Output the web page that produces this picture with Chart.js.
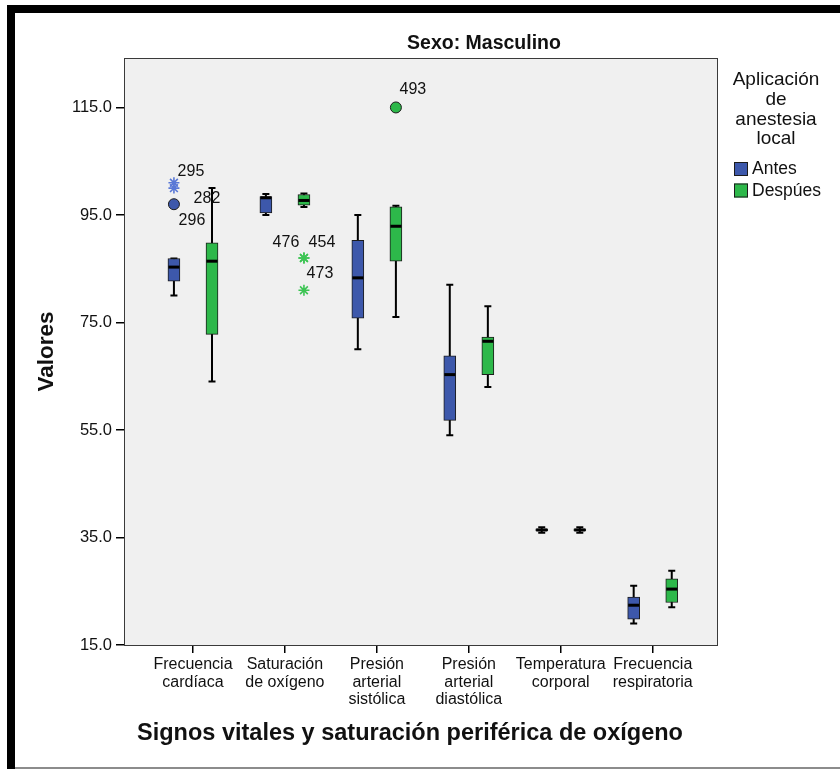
<!DOCTYPE html>
<html>
<head>
<meta charset="utf-8">
<script src="https://cdn.jsdelivr.net/npm/chart.js@4"></script>
<style>
  html, body { margin: 0; padding: 0; background: #fff; }
  #wrap { width: 840px; height: 769px; }
</style>
</head>
<body>
<div id="wrap"><canvas id="chart" width="840" height="769"></canvas></div>
<script>
const categories = [
  ["Frecuencia", "cardíaca"],
  ["Saturación", "de oxígeno"],
  ["Presión", "arterial", "sistólica"],
  ["Presión", "arterial", "diastólica"],
  ["Temperatura", "corporal"],
  ["Frecuencia", "respiratoria"]
];
const seriesNames = ["Antes", "Despúes"];
const legendTitle = ["Aplicación", "de", "anestesia", "local"];
const yTicks = [15, 35, 55, 75, 95, 115];

// Antes
const antesMin    = [80.0, 95.0, 70.0, 54.0, 35.9, 19.0];
const antesQ1     = [82.7, 95.4, 75.8, 56.8, 36.2, 19.8];
const antesMedian = [85.3, 98.2, 83.3, 65.3, 36.4, 22.4];
const antesQ3     = [86.9, 98.4, 90.3, 68.8, 36.6, 23.9];
const antesMax    = [86.9, 98.9, 95.0, 82.0, 36.9, 26.0];

// Despúes
const despuesMin    = [64.0, 96.5, 76.0, 63.0, 35.9, 22.0];
const despuesQ1     = [72.8, 96.8, 86.4, 65.3, 36.2, 22.9];
const despuesMedian = [86.4, 97.7, 92.9, 71.5, 36.4, 25.4];
const despuesQ3     = [89.8, 98.8, 96.5, 72.3, 36.6, 27.3];
const despuesMax    = [100.0, 99.0, 96.7, 78.0, 36.9, 28.8];

// outliers (extreme = star, otherwise circle)
const antesOutCat     = [0, 0, 0];
const antesOutVal     = [101, 100, 97];
const antesOutId      = ["295", "282", "296"];
const antesOutExtreme = [true, true, false];

const despuesOutCat     = [1, 1, 1, 2];
const despuesOutVal     = [87, 87, 81, 115];
const despuesOutId      = ["476", "454", "473", "493"];
const despuesOutExtreme = [true, true, true, false];

const colors = { antes: "#3d58ab", despues: "#2db84a", antesStar: "#5a78d6", despuesStar: "#3cc453" };
const shift = 0.207;
const fontFamily = "'Liberation Sans', Arial, sans-serif";

// label offsets from the marker, in pixels
const labelOffsets = {
  "295": [17, -11], "282": [33, 11], "296": [18, 16],
  "476": [-18, -15], "454": [18, -15], "473": [16, -17], "493": [17, -18]
};

const groups = [
  { name: seriesNames[0], off: -shift, color: colors.antes, star: colors.antesStar,
    min: antesMin, q1: antesQ1, med: antesMedian, q3: antesQ3, max: antesMax,
    oCat: antesOutCat, oVal: antesOutVal, oId: antesOutId, oExt: antesOutExtreme },
  { name: seriesNames[1], off: shift, color: colors.despues, star: colors.despuesStar,
    min: despuesMin, q1: despuesQ1, med: despuesMedian, q3: despuesQ3, max: despuesMax,
    oCat: despuesOutCat, oVal: despuesOutVal, oId: despuesOutId, oExt: despuesOutExtreme }
];

const datasets = [];
groups.forEach(g => {
  datasets.push({
    type: "bar",
    label: g.name,
    data: categories.map((c, i) => ({ x: i + g.off, y: [g.q1[i], g.q3[i]] })),
    backgroundColor: g.color,
    borderColor: "#1c1c1c",
    borderWidth: 1,
    borderSkipped: false,
    barThickness: 12,
    stack: "box"
  });
});
groups.forEach(g => {
  datasets.push({
    type: "scatter",
    label: g.name + " outliers",
    data: g.oVal.map((v, i) => ({ x: g.oCat[i] + g.off, y: v })),
    pointStyle: g.oExt.map(e => e ? "star" : "circle"),
    pointRadius: g.oExt.map(e => e ? 5.5 : 5.5),
    backgroundColor: g.color,
    borderColor: g.oExt.map(e => e ? g.star : "#1c1c1c"),
    borderWidth: g.oExt.map(e => e ? 1.6 : 1)
  });
});

const boxExtras = {
  id: "boxExtras",
  beforeDraw(chart) {
    const { ctx, chartArea: a } = chart;
    ctx.save();
    ctx.fillStyle = "#ffffff";
    ctx.fillRect(0, 0, chart.width, chart.height);
    ctx.fillStyle = "#000";
    ctx.fillRect(7, 5, 833, 8);
    ctx.fillRect(7, 5, 8, 764);
    ctx.fillStyle = "#8c8c8c";
    ctx.fillRect(15, 767, 825, 2);
    ctx.fillStyle = "#f0f0f0";
    ctx.fillRect(a.left, a.top, a.right - a.left, a.bottom - a.top);
    ctx.restore();
  },
  beforeDatasetsDraw(chart) {
    const { ctx } = chart;
    const xs = chart.scales.x, ys = chart.scales.y;
    ctx.save();
    ctx.strokeStyle = "#000";
    ctx.lineWidth = 2;
    groups.forEach(g => {
      categories.forEach((c, i) => {
        const px = xs.getPixelForValue(i + g.off);
        const yMin = ys.getPixelForValue(g.min[i]), yMax = ys.getPixelForValue(g.max[i]);
        ctx.beginPath();
        ctx.moveTo(px, yMin); ctx.lineTo(px, yMax);
        ctx.moveTo(px - 3.5, yMin); ctx.lineTo(px + 3.5, yMin);
        ctx.moveTo(px - 3.5, yMax); ctx.lineTo(px + 3.5, yMax);
        ctx.stroke();
      });
    });
    ctx.restore();
  },
  afterDatasetsDraw(chart) {
    const { ctx, chartArea: a } = chart;
    const xs = chart.scales.x, ys = chart.scales.y;
    ctx.save();
    ctx.strokeStyle = "#000";
    ctx.lineWidth = 3;
    groups.forEach(g => {
      categories.forEach((c, i) => {
        const px = xs.getPixelForValue(i + g.off);
        const py = ys.getPixelForValue(g.med[i]);
        ctx.beginPath();
        ctx.moveTo(px - 5.5, py); ctx.lineTo(px + 5.5, py);
        ctx.stroke();
      });
    });
    ctx.strokeStyle = "#3a3a3a";
    ctx.lineWidth = 1;
    ctx.strokeRect(a.left + 0.5, a.top + 0.5, a.right - a.left - 1, a.bottom - a.top);
    ctx.restore();
  },
  afterDraw(chart) {
    const { ctx } = chart;
    const xs = chart.scales.x, ys = chart.scales.y;
    ctx.save();
    ctx.fillStyle = "#111";
    ctx.textAlign = "center";
    ctx.textBaseline = "middle";

    ctx.font = "bold 19.5px " + fontFamily;
    ctx.fillText("Sexo: Masculino", 484, 44);

    ctx.font = "bold 23.5px " + fontFamily;
    ctx.fillText("Signos vitales y saturación periférica de oxígeno", 410, 734);

    // outlier case labels
    ctx.font = "16px " + fontFamily;
    groups.forEach(g => {
      g.oId.forEach((id, i) => {
        const px = xs.getPixelForValue(g.oCat[i] + g.off);
        const py = ys.getPixelForValue(g.oVal[i]);
        const o = labelOffsets[id] || [16, -12];
        ctx.fillText(id, px + o[0], py + o[1]);
      });
    });

    // legend
    ctx.font = "19px " + fontFamily;
    legendTitle.forEach((t, i) => ctx.fillText(t, 776, 80 + i * 19.7));
    ctx.font = "17.5px " + fontFamily;
    ctx.textAlign = "left";
    groups.forEach((g, i) => {
      const y = 162 + i * 21.5;
      ctx.fillStyle = g.color;
      ctx.fillRect(734, y, 14, 14);
      ctx.strokeStyle = "#1c1c1c";
      ctx.lineWidth = 1;
      ctx.strokeRect(734.5, y + 0.5, 13, 13);
      ctx.fillStyle = "#111";
      ctx.fillText(g.name, 752, y + 7.5);
    });
    ctx.restore();
  }
};

new Chart(document.getElementById("chart"), {
  data: { datasets: datasets },
  options: {
    responsive: false,
    animation: false,
    events: [],
    layout: { padding: { left: 29, top: 58, right: 122, bottom: 0 } },
    plugins: { legend: { display: false }, tooltip: { enabled: false }, title: { display: false } },
    scales: {
      x: {
        type: "linear",
        min: -0.75,
        max: 5.71,
        offset: false,
        grid: { display: true, offset: false, drawOnChartArea: false, drawTicks: true, tickLength: 8, color: "#000", lineWidth: 1.5 },
        border: { display: false },
        afterBuildTicks: s => { s.ticks = categories.map((c, i) => ({ value: i })); },
        afterFit: s => { s.height = 124; },
        ticks: {
          autoSkip: false, maxRotation: 0, padding: 3, color: "#111",
          font: { family: fontFamily, size: 16, lineHeight: 1.1 },
          callback: v => categories[v]
        }
      },
      y: {
        type: "linear",
        min: 15,
        max: 124.2,
        beginAtZero: false,
        grid: { display: true, drawOnChartArea: false, drawTicks: true, tickLength: 8, color: "#000", lineWidth: 1.5 },
        border: { display: false },
        afterBuildTicks: s => { s.ticks = yTicks.map(v => ({ value: v })); },
        afterFit: s => { s.width = 95; },
        ticks: {
          padding: 4, color: "#111",
          font: { family: fontFamily, size: 16.5 },
          callback: v => Number(v).toFixed(1)
        },
        title: {
          display: true, text: "Valores", color: "#111",
          font: { family: fontFamily, size: 22.5, weight: "bold" }
        }
      }
    }
  },
  plugins: [boxExtras]
});
</script>
</body>
</html>
